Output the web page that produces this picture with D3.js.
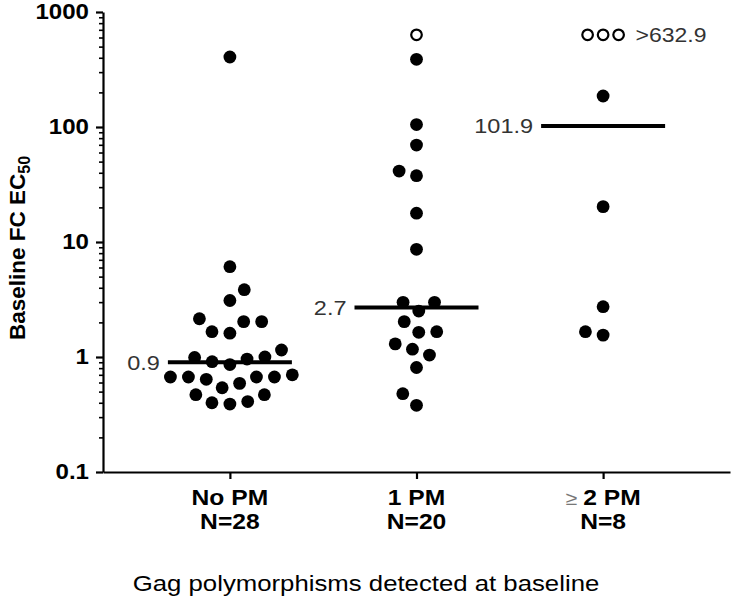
<!DOCTYPE html>
<html><head><meta charset="utf-8">
<script src="https://cdn.jsdelivr.net/npm/d3@7"></script>
<style>body{margin:0;background:#fff} svg{display:block}</style>
</head><body><svg id="chart" width="733" height="600"></svg>
<script>
// ---------------- data ----------------
const categories = ["No PM", "1 PM", "≥ 2 PM"];
const groupSizes = ["N=28", "N=20", "N=8"];
const noPmValues = [406, 6.1, 3.85, 3.1, 2.03, 2.15, 2.03, 1.66, 1.61,
  1.15, 1.0, 0.99, 0.96, 0.91, 0.86,
  0.70, 0.67, 0.67, 0.67, 0.67, 0.64, 0.59,
  0.54, 0.47, 0.47, 0.41, 0.40, 0.39];
const onePmValues = [388, 105, 69.7, 41.4, 37.7, 17.8, 8.64, 2.99, 2.99, 2.51,
  2.03, 1.66, 1.64, 1.30, 1.17, 1.04, 0.81, 0.48, 0.38];
const twoPlusPmValues = [186, 20.3, 2.74, 1.66, 1.55];
const censoredCounts = [0, 1, 3];      // values above upper limit (open circles)
const censoredValue = 632.9;
const censoredLabel = ">632.9";
const medians = [0.9, 2.7, 101.9];
const medianLabels = ["0.9", "2.7", "101.9"];
const yTickValues = [0.1, 1, 10, 100, 1000];
const yTickLabels = ["0.1", "1", "10", "100", "1000"];
const yTitle = "Baseline FC EC";
const yTitleSub = "50";
const xTitle = "Gag polymorphisms detected at baseline";

// ---------------- layout ----------------
const W = 733, H = 600;
const mLeft = 103, mRight = 730, mTop = 12, mBottom = 472;
const FONT = "'Liberation Sans', Arial, Helvetica, sans-serif";
const SX = 1.12;                 // horizontal stretch of the lettering
const dotR = 6.4, dotGap = 18;
const openR = 5.3, openGap = 15.5;
const medianHalf = 62;

const svg = d3.select("#chart");
svg.append("rect").attr("width", W).attr("height", H).attr("fill", "#fff");

function label(px, py, txt, o = {}) {
  return svg.append("text")
    .attr("transform", `translate(${px},${py}) scale(${SX},1)`)
    .attr("text-anchor", o.anchor || "middle")
    .attr("dy", o.dy || null)
    .attr("font-family", FONT)
    .attr("font-weight", o.weight || "normal")
    .attr("font-size", o.size || 21)
    .attr("fill", o.fill || "#000")
    .text(txt);
}

const x = d3.scalePoint().domain(categories).range([mLeft, mRight]).padding(0.68);
const y = d3.scaleLog().domain([0.1, 1000]).range([mBottom, mTop]);

// minor ticks
const minorVals = [];
[0.1, 1, 10, 100].forEach(d => { for (let k = 2; k <= 9; k++) minorVals.push(d * k); });

const gMinor = svg.append("g").attr("transform", `translate(${mLeft},0)`)
  .call(d3.axisLeft(y).tickValues(minorVals).tickSize(4).tickFormat(""));
gMinor.select(".domain").remove();
gMinor.selectAll("line").attr("stroke", "#000").attr("stroke-width", 1.6);

const gy = svg.append("g").attr("transform", `translate(${mLeft},0)`)
  .call(d3.axisLeft(y).tickValues(yTickValues).tickSizeInner(7).tickSizeOuter(0)
    .tickPadding(7).tickFormat((d, i) => yTickLabels[i]));
gy.select(".domain").attr("stroke", "#000").attr("stroke-width", 2.2);
gy.selectAll(".tick line").attr("stroke", "#000").attr("stroke-width", 2.2);
gy.selectAll(".tick text").attr("x", null).attr("transform", `translate(-14,0) scale(${SX},1)`)
  .attr("font-family", FONT).attr("font-weight", "bold")
  .attr("font-size", 21.5).attr("fill", "#000");

const gx = svg.append("g").attr("transform", `translate(0,${mBottom})`)
  .call(d3.axisBottom(x).tickSizeInner(7).tickSizeOuter(0).tickFormat(""));
gx.select(".domain").attr("stroke", "#000").attr("stroke-width", 2.2);
gx.selectAll(".tick line").attr("stroke", "#000").attr("stroke-width", 2.2);

// category labels
categories.forEach((c, i) => {
  if (c.startsWith("≥")) {
    const t = label(x(c), 505, null, { weight: "bold", size: 22 });
    t.append("tspan").attr("font-weight", "normal").attr("fill", "#777").attr("font-size", 19).text("≥ ");
    t.append("tspan").text(c.slice(2));
  } else label(x(c), 505, c, { weight: "bold", size: 22 });
  label(x(c), 529, groupSizes[i], { weight: "bold", size: 22 });
});

// titles
label(366, 591, xTitle, { size: 23 });
const yt = svg.append("text").attr("transform", "translate(25,248) rotate(-90)")
  .attr("text-anchor", "middle").attr("font-family", FONT).attr("font-weight", "bold")
  .attr("font-size", 22.5).attr("fill", "#000");
yt.append("tspan").text(yTitle);
yt.append("tspan").attr("font-size", 16).attr("dy", "0.3em").text(yTitleSub);

// beeswarm layout: bottom-first, closest free position to the centre
function swarm(vals, gap) {
  const ys = vals.map(v => y(v));
  const order = d3.range(vals.length).sort((a, b) => d3.descending(ys[a], ys[b]) || a - b);
  const placed = [], off = new Array(vals.length);
  let toggle = -1;
  order.forEach(i => {
    const yi = ys[i];
    const ivs = placed.filter(p => Math.abs(p.y - yi) < gap).map(p => {
      const w = Math.sqrt(gap * gap - (p.y - yi) ** 2);
      return [p.x - w, p.x + w];
    });
    const cands = [0].concat(ivs.flat());
    const ok = cands.filter(c => ivs.every(iv => c <= iv[0] + 1e-6 || c >= iv[1] - 1e-6));
    const m = d3.min(ok, c => Math.abs(c));
    const near = ok.filter(c => Math.abs(c) - m < 0.5);
    let pick = near[0];
    const neg = near.filter(c => c < -0.01), pos = near.filter(c => c > 0.01);
    if (neg.length && pos.length) { pick = toggle < 0 ? neg[0] : pos[0]; toggle = -toggle; }
    off[i] = pick;
    placed.push({ x: pick, y: yi });
  });
  return off;
}

const groups = [noPmValues, onePmValues, twoPlusPmValues];
groups.forEach((vals, gi) => {
  const cx = x(categories[gi]);
  const off = swarm(vals, dotGap);
  svg.append("g").selectAll("circle").data(vals).join("circle")
    .attr("cx", (d, i) => cx + off[i]).attr("cy", d => y(d)).attr("r", dotR)
    .attr("fill", "#000");
  // censored (open) values
  const cens = d3.range(censoredCounts[gi]).map(() => censoredValue);
  const offC = swarm(cens, openGap);
  svg.append("g").selectAll("circle").data(cens).join("circle")
    .attr("cx", (d, i) => cx + offC[i]).attr("cy", d => y(d)).attr("r", openR)
    .attr("fill", "#fff").attr("stroke", "#000").attr("stroke-width", 2.2);
  if (cens.length > 1) {
    label(cx + d3.max(offC) + 17, y(censoredValue), censoredLabel,
      { anchor: "start", dy: "0.35em", size: 20.5, fill: "#333" });
  }
  // median line + label
  svg.append("line").attr("x1", cx - medianHalf).attr("x2", cx + medianHalf)
    .attr("y1", y(medians[gi])).attr("y2", y(medians[gi]))
    .attr("stroke", "#000").attr("stroke-width", 4);
  label(cx - medianHalf - 8, y(medians[gi]), medianLabels[gi],
    { anchor: "end", dy: "0.35em", size: 21, fill: "#333" });
});
</script></body></html>
